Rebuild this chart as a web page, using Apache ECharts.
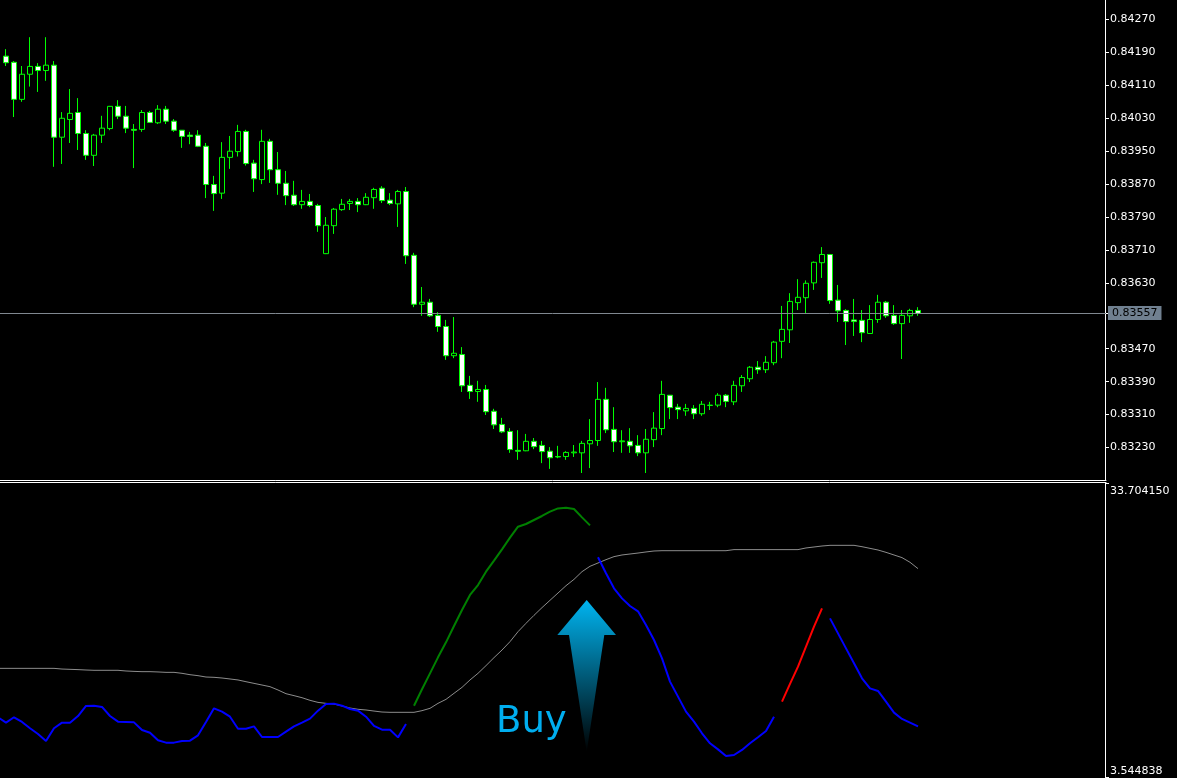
<!DOCTYPE html>
<html>
<head>
<meta charset="utf-8">
<style>html,body{margin:0;padding:0;background:#000}#c{width:1177px;height:778px}</style>
<script src="https://cdn.jsdelivr.net/npm/echarts@6/dist/echarts.min.js"></script>
</head>
<body>
<div id="c"></div>
<script>
// Prices in points (1e-5)
const opens = [84181,84166,84076,84137,84156,84146,84159,83984,84027,84044,
83993,83940,83989,84005,84059,84035,84003,84003,84044,84019,
84052,84023,84001,83989,83989,83962,83869,83848,83935,83949,
83998,83921,83881,83974,83905,83872,83843,83820,83828,83818,
83701,83769,83808,83823,83828,83820,83837,83860,83831,83822,
83852,83697,83578,83583,83551,83524,83453,83456,83381,83366,
83371,83318,83286,83269,83223,83222,83245,83235,83221,83208,
83208,83217,83217,83239,83247,83347,83274,83244,83245,83235,
83217,83249,83276,83357,83328,83319,83325,83312,83332,83333,
83357,83341,83380,83397,83425,83419,83436,83488,83516,83582,
83594,83630,83679,83699,83588,83563,83540,83539,83507,83541,
83583,83551,83531,83550,83563];
const closes = [84165,84076,84137,84156,84146,84159,83984,84030,84042,83993,
83940,83989,84006,84059,84035,84006,84001,84044,84020,84052,
84023,84001,83986,83986,83962,83869,83847,83935,83950,83998,
83920,83883,83974,83905,83872,83842,83820,83828,83818,83769,
83770,83809,83821,83828,83820,83838,83857,83830,83823,83852,
83696,83578,83583,83550,83524,83453,83459,83380,83366,83371,
83317,83285,83268,83225,83221,83245,83232,83220,83205,83207,
83218,83219,83240,83247,83347,83273,83244,83246,83234,83217,
83250,83277,83359,83327,83322,83325,83312,83335,83333,83357,
83342,83381,83400,83425,83419,83437,83486,83517,83585,83595,
83629,83680,83699,83587,83562,83536,83536,83509,83541,83583,
83550,83531,83551,83563,83556];
const lows = [84157,84033,84070,84107,84094,84121,83912,83919,83970,83953,
83929,83914,83970,84001,84028,83994,83909,83997,84019,84016,
84016,83997,83958,83967,83960,83836,83805,83834,83907,83937,
83915,83851,83870,83873,83844,83819,83817,83810,83814,83754,
83700,83749,83805,83807,83802,83819,83810,83824,83819,83766,
83676,83571,83550,83547,83511,83443,83447,83365,83348,83341,
83309,83275,83265,83217,83200,83221,83226,83192,83178,83204,
83200,83207,83168,83180,83234,83265,83219,83217,83217,83209,
83168,83231,83260,83299,83299,83307,83299,83307,83321,83328,
83328,83333,83365,83389,83409,83411,83430,83447,83484,83564,
83556,83613,83642,83579,83535,83479,83501,83486,83506,83533,
83545,83528,83445,83533,83550];
const highs = [84198,84169,84157,84227,84164,84227,84169,84045,84101,84079,
84001,83992,84036,84060,84074,84060,84016,84050,84048,84062,
84060,84028,84001,83997,84001,83970,83890,83972,83987,84014,
84002,83929,84002,83980,83948,83902,83878,83856,83846,83822,
83790,83812,83834,83834,83836,83848,83861,83865,83848,83856,
83863,83703,83620,83591,83559,83540,83547,83474,83404,83392,
83382,83324,83302,83277,83272,83263,83253,83246,83231,83234,
83221,83236,83246,83299,83389,83375,83328,83272,83277,83260,
83275,83316,83392,83357,83336,83336,83333,83343,83341,83362,
83360,83392,83406,83428,83440,83452,83489,83574,83605,83639,
83636,83682,83717,83699,83625,83566,83591,83564,83576,83601,
83586,83576,83564,83567,83571];

const priceTicks = [0.84270,0.84190,0.84110,0.84030,0.83950,0.83870,0.83790,0.83710,0.83630,0.83470,0.83390,0.83310,0.83230];
const lastPrice = 0.83557;
const indicatorTicks = [33.704150, 3.544838];

// Indicator: first element belongs to the bar just left of the window
const blueA = [9.67,9.12,9.67,9.19,8.54,7.96,7.24,8.54,9.12,9.12,9.80,10.83,10.86,10.73,9.80,9.22,9.19,9.15,8.37,8.09,7.31,7.07,7.07,7.24,7.27,7.82,9.19,10.59,10.25,9.73,8.50,8.50,8.74,7.65,7.65,7.65,8.20,8.74,9.12,9.53,10.35,11.03,11.07,10.86,10.52,10.35,9.73,8.78,8.40,8.40,7.61,8.98];
const greenSeg = [10.86,12.54,14.18,15.82,17.36,19.03,20.68,22.22,23.24,24.61,25.74,26.90,28.10,29.22,29.50,29.91,30.32,30.76,31.10,31.17,31.04,30.18,29.36];
const blueB = [26.08,24.44,22.90,21.87,21.09,20.54,19.14,17.60,15.72,13.33,11.79,10.25,9.22,8.03,7.00,6.38,5.70,5.80,6.32,7.00,7.62,8.27,9.73];
const redSeg = [11.27,13.09,14.86,16.91,18.97,20.85];
const blueC = [19.82,18.28,16.74,15.21,13.67,12.64,12.37,11.27,10.15,9.50,9.12,8.74];
const signal = [14.69,14.69,14.69,14.69,14.69,14.69,14.69,14.69,14.62,14.59,14.56,14.52,14.49,14.49,14.49,14.49,14.42,14.38,14.35,14.35,14.32,14.28,14.28,14.18,14.04,13.94,13.80,13.77,13.70,13.60,13.50,13.32,13.15,12.98,12.81,12.47,12.09,11.89,11.68,11.41,11.20,11.10,11.03,10.83,10.62,10.49,10.42,10.31,10.21,10.18,10.18,10.18,10.18,10.35,10.59,11.10,11.51,12.13,12.74,13.50,14.18,14.97,15.79,16.57,17.43,18.45,19.31,20.13,20.92,21.67,22.42,23.17,23.82,24.61,25.16,25.50,25.84,26.15,26.32,26.42,26.52,26.63,26.73,26.76,26.76,26.76,26.76,26.76,26.76,26.76,26.76,26.76,26.87,26.87,26.87,26.87,26.87,26.87,26.87,26.87,26.87,27.04,27.14,27.24,27.31,27.31,27.31,27.31,27.17,27.00,26.83,26.59,26.32,26.05,25.57,24.92];

const BANDS = 139;
const categories = Array.from({length: BANDS}, (_, i) => String(i));
const pad = (start, arr) => { const o = new Array(BANDS).fill(null); arr.forEach((v, i) => o[start + i] = v); return o; };

const candles = new Array(BANDS).fill('-');
opens.forEach((_, i) => {
  candles[i + 1] = [opens[i] / 1e5, closes[i] / 1e5, lows[i] / 1e5, highs[i] / 1e5];
});

const GREEN = '#00ff00', FONT = 'DejaVu Sans';
const lineSeries = (name, start, arr, color, width) => ({
  name, type: 'line', xAxisIndex: 1, yAxisIndex: 1, data: pad(start, arr),
  symbol: 'none', silent: true, animation: false, connectNulls: false,
  lineStyle: { color, width }
});

const chart = echarts.init(document.getElementById('c'), null, { renderer: 'canvas' });
chart.setOption({
  backgroundColor: '#000000',
  animation: false,
  grid: [
    { left: -6, top: 0, width: 1112, height: 480, outerBoundsMode: 'none', containLabel: false },
    { left: -6, top: 483, width: 1112, height: 294, outerBoundsMode: 'none', containLabel: false }
  ],
  xAxis: [
    { type: 'category', gridIndex: 0, data: categories, boundaryGap: true,
      axisLine: { show: true, onZero: false, lineStyle: { color: '#fff', width: 1 } },
      axisTick: { show: false }, axisLabel: { show: false }, splitLine: { show: false } },
    { type: 'category', gridIndex: 1, data: categories, boundaryGap: true, position: 'top', offset: 1,
      axisLine: { show: true, onZero: false, lineStyle: { color: '#fff', width: 1 } },
      axisTick: { show: false }, axisLabel: { show: false }, splitLine: { show: false } }
  ],
  yAxis: [
    { type: 'value', gridIndex: 0, position: 'right', offset: -1, scale: true, min: 0.83151, max: 0.843174,
      axisLine: { show: true, onZero: false, lineStyle: { color: '#fff', width: 1 } },
      axisTick: { show: true, length: 4, inside: false, customValues: priceTicks.concat([lastPrice]), lineStyle: { color: '#fff' } },
      axisLabel: { show: true, customValues: priceTicks, margin: 5, color: '#fff', fontFamily: FONT, fontSize: 11,
        showMinLabel: true, showMaxLabel: true, formatter: v => v.toFixed(5) },
      splitLine: { show: false } },
    { type: 'value', gridIndex: 1, position: 'right', offset: -1, scale: true, min: indicatorTicks[1], max: indicatorTicks[0],
      axisLine: { show: true, onZero: false, lineStyle: { color: '#fff', width: 1 } },
      axisTick: { show: true, length: 4, customValues: indicatorTicks, lineStyle: { color: '#fff' } },
      axisLabel: { show: true, customValues: indicatorTicks, margin: 5, color: '#fff', fontFamily: FONT, fontSize: 11,
        padding: [3, 0, 0, 0],
        verticalAlignMaxLabel: 'bottom', verticalAlignMinLabel: 'top',
        showMinLabel: true, showMaxLabel: true, formatter: v => v.toFixed(6) },
      splitLine: { show: false } }
  ],
  series: [
    { name: 'Price', type: 'candlestick', xAxisIndex: 0, yAxisIndex: 0, data: candles, barWidth: 5, silent: true,
      itemStyle: { color: '#000000', color0: '#ffffff', borderColor: GREEN, borderColor0: GREEN, borderColorDoji: GREEN, borderWidth: 1 } },
    { name: 'Last price', type: 'line', xAxisIndex: 0, yAxisIndex: 0, data: pad(115, [lastPrice]), symbol: 'none', silent: true,
      lineStyle: { width: 0 },
      markLine: { silent: true, symbol: 'none', animation: false, precision: 5,
        data: [{ yAxis: lastPrice }],
        lineStyle: { color: '#808890', width: 1, type: 'solid' },
        label: { show: true, position: 'end', distance: 2, formatter: lastPrice.toFixed(5), color: '#000',
          backgroundColor: '#708090', fontFamily: FONT, fontSize: 11, padding: [2, 4, 1, 4] } } },
    lineSeries('Signal', 0, signal, '#8c8c8c', 1),
    lineSeries('Blue A', 0, blueA, '#0000ff', 2),
    lineSeries('Green', 52, greenSeg, '#008000', 2),
    lineSeries('Blue B', 75, blueB, '#0000ff', 2),
    lineSeries('Red', 98, redSeg, '#ff0000', 2),
    lineSeries('Blue C', 104, blueC, '#0000ff', 2)
  ],
  graphic: [
    { type: 'polygon', silent: true, z: 50,
      shape: { points: [[586.7,600],[616,635],[604.3,635],[586.7,752],[569,635],[557.3,635]] },
      style: { fill: new echarts.graphic.LinearGradient(0, 0, 0, 1, [
        { offset: 0, color: '#00b4f0' }, { offset: 1, color: '#000000' }]) } },
    { type: 'text', silent: true, z: 50, left: 496, top: 704,
      style: { text: 'Buy', fill: '#00aeef', fontFamily: FONT, fontSize: 37 } }
  ]
});
</script>
</body>
</html>
